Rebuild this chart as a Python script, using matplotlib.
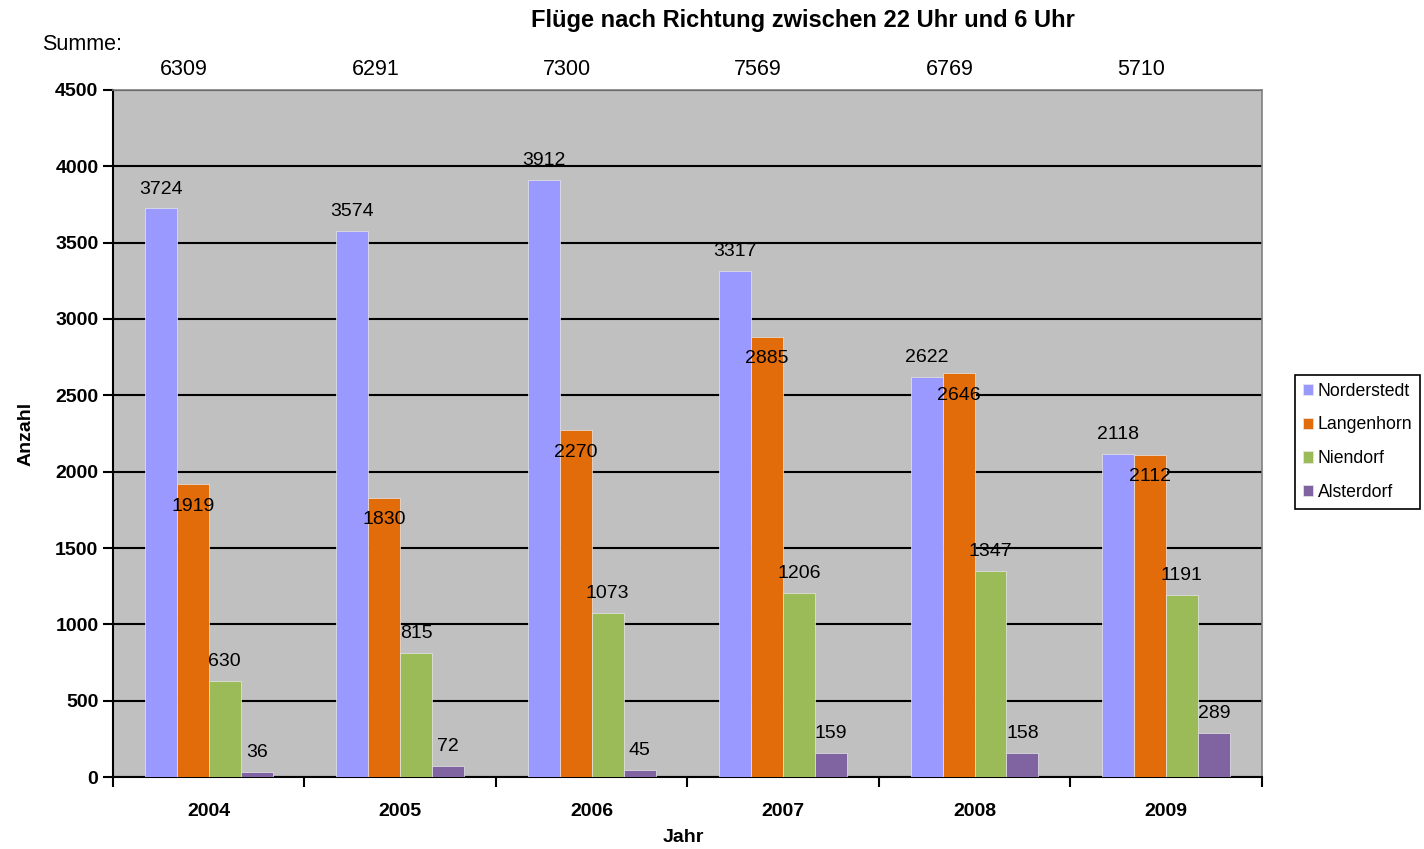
import numpy as np
import matplotlib
matplotlib.use("Agg")
import matplotlib.pyplot as plt

plt.rcParams['font.family'] = ['Liberation Sans', 'DejaVu Sans']

years = ["2004", "2005", "2006", "2007", "2008", "2009"]
norderstedt = [3724, 3574, 3912, 3317, 2622, 2118]
langenhorn = [1919, 1830, 2270, 2885, 2646, 2112]
niendorf = [630, 815, 1073, 1206, 1347, 1191]
alsterdorf = [36, 72, 45, 159, 158, 289]
totals = [6309, 6291, 7300, 7569, 6769, 5710]

series = [
    ("Norderstedt", norderstedt, "#9999FF"),
    ("Langenhorn", langenhorn, "#E36C0A"),
    ("Niendorf", niendorf, "#9BBB59"),
    ("Alsterdorf", alsterdorf, "#8064A2"),
]

fig = plt.figure(figsize=(14.24, 8.49), dpi=100)
ax = fig.add_axes([0.0794, 0.0848, 0.8066, 0.8092])
ax.set_facecolor("#C0C0C0")

x = np.arange(len(years))
w = 0.167
for i, (name, vals, color) in enumerate(series):
    pos = x + (i - 1.5) * w
    ax.bar(pos, vals, width=w, color=color, edgecolor="#E8E8E8",
           linewidth=0.5, label=name, zorder=3)
    for p, v in zip(pos, vals):
        dy = -16 if name == "Langenhorn" else 14
        ax.annotate(str(v), (p, v), xytext=(0, dy), textcoords="offset points",
                    ha="center", va="center", fontsize=14, zorder=5)

ax.set_xlim(-0.5, len(years) - 0.5)
ax.set_ylim(0, 4500)
ax.set_yticks(np.arange(0, 4501, 500))
ax.yaxis.grid(True, color="black", linewidth=1.5, zorder=1)
ax.set_axisbelow(True)

ax.set_xticks(np.arange(-0.5, len(years), 1.0))
ax.set_xticklabels([])
ax.set_xticks(x, minor=True)
ax.set_xticklabels(years, minor=True, fontsize=14, fontweight="bold")
ax.tick_params(axis="x", which="minor", length=0, pad=19)
ax.tick_params(axis="x", which="major", length=7, width=1.5, direction="out")
ax.tick_params(axis="y", length=7, width=1.5, direction="out", labelsize=14)
for lbl in ax.get_yticklabels():
    lbl.set_fontweight("bold")

for s in ["left", "bottom"]:
    ax.spines[s].set_color("black")
    ax.spines[s].set_linewidth(1.5)
for s in ["top", "right"]:
    ax.spines[s].set_color("#808080")
    ax.spines[s].set_linewidth(1.2)

ax.set_ylabel("Anzahl", fontsize=14, fontweight="bold", labelpad=15)
fig.text(683 / 1424, 1 - 838 / 849, "Jahr", ha="center", va="center",
         fontsize=14, fontweight="bold")

# totals row above the plot
for xi, t in zip(x, totals):
    ax.text(xi - 0.13, 4635, str(t), ha="center", va="center", fontsize=15.5,
            clip_on=False)
fig.text(42 / 1424, 1 - 44 / 849, "Summe:", ha="left", va="center", fontsize=15.5)

fig.text(803 / 1424, 1 - 20 / 849, "Flüge nach Richtung zwischen 22 Uhr und 6 Uhr",
         ha="center", va="center", fontsize=17, fontweight="bold")

leg = ax.legend(loc="center left", bbox_to_anchor=(1.029, 0.488), fontsize=12.7,
                frameon=True, fancybox=False, edgecolor="black", framealpha=1,
                handlelength=0.6, handleheight=0.6, handletextpad=0.25,
                borderpad=0.45, labelspacing=0.95, borderaxespad=0)
leg.get_frame().set_linewidth(1.2)

fig.savefig("out.png", dpi=100, facecolor="white")
